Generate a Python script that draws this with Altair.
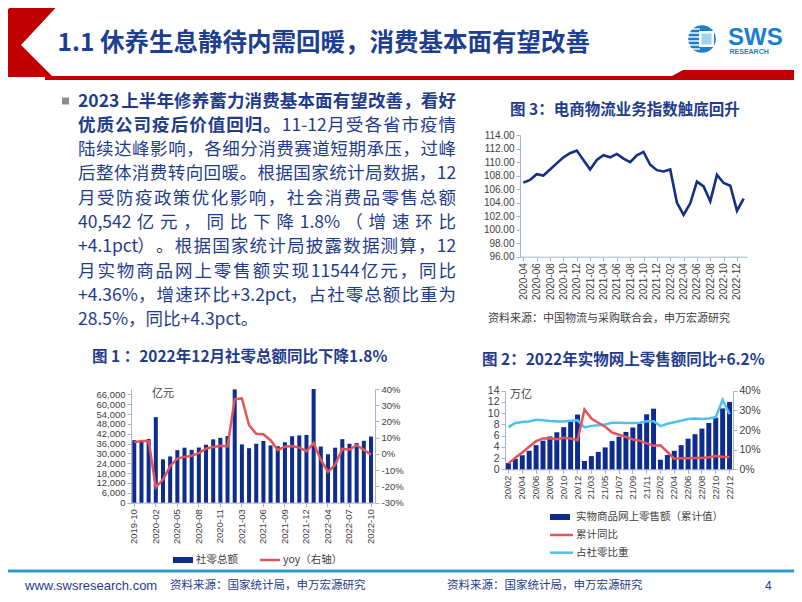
import altair as alt
import pandas as pd

OX, OY = 8, 8          # page margin: plot coords = page coords - 8
W, H = 786, 586

NAVY = "#1F3C8C"
TITLE_C = "#1E3F91"
BAR = "#0E2C8E"
RED_LINE = "#E2565A"
CYAN = "#4FC1EE"
RED = "#C00000"
AXC = "#A6B5CF"
LBL = "#404040"
LOGO = "#1B7FD0"
CJK = "Noto Sans CJK SC"
LAT = "Liberation Sans"

# ---------------- data: chart 1 (社零总额 / yoy) ----------------
c1_months = ["2019-10", "2019-11", "2019-12",
             "2020-02", "2020-03", "2020-04", "2020-05", "2020-06", "2020-07", "2020-08",
             "2020-09", "2020-10", "2020-11", "2020-12",
             "2021-02", "2021-03", "2021-04", "2021-05", "2021-06", "2021-07", "2021-08",
             "2021-09", "2021-10", "2021-11", "2021-12",
             "2022-02", "2022-03", "2022-04", "2022-05", "2022-06", "2022-07", "2022-08",
             "2022-09", "2022-10"]
c1_sales = [38100, 38100, 38800,
            52100, 26400, 28200, 32000, 33500, 32200, 33600, 35300, 38600, 39500, 40600,
            69000, 35500, 33200, 35900, 37600, 34900, 34400, 36800, 40500, 41000, 41300,
            69250, 34200, 29500, 33500, 38700, 35900, 36300, 37700, 40300]
c1_yoy = [7.2, 8.0, 8.0,
          -20.5, -15.8, -7.5, -2.8, -1.8, -1.1, 0.5, 3.3, 4.3, 5.0, 4.6,
          33.8, 34.2, 17.7, 12.4, 12.1, 8.5, 2.5, 4.4, 4.9, 3.9, 1.7,
          6.7, -3.5, -11.1, -6.7, 3.1, 2.7, 5.4, 2.5, -0.5]
c1_xticks = ["2019-10", "2020-02", "2020-05", "2020-08", "2020-11", "2021-03",
             "2021-06", "2021-09", "2021-12", "2022-04", "2022-07", "2022-10"]
c1_yticks = [0, 6000, 12000, 18000, 24000, 30000, 36000, 42000, 48000, 54000, 60000, 66000]
c1_rticks = [-30, -20, -10, 0, 10, 20, 30, 40]

# ---------------- data: chart 2 (实物网上零售额) ----------------
c2_months = ["20/02", "20/03", "20/04", "20/05", "20/06", "20/07", "20/08", "20/09", "20/10", "20/11", "20/12",
             "21/02", "21/03", "21/04", "21/05", "21/06", "21/07", "21/08", "21/09", "21/10", "21/11", "21/12",
             "22/02", "22/03", "22/04", "22/05", "22/06", "22/07", "22/08", "22/09", "22/10", "22/11", "22/12"]
c2_online = [1.1, 1.85, 2.5, 3.3, 4.3, 5.1, 5.85, 6.6, 7.5, 8.5, 9.75,
             1.48, 2.35, 3.1, 3.9, 5.05, 5.8, 6.65, 7.45, 8.2, 9.8, 10.8,
             1.7, 2.55, 3.3, 4.3, 5.45, 6.25, 7.25, 8.25, 9.2, 10.85, 12.0]
c2_cum_yoy = [3.0, 5.9, 8.6, 11.5, 14.3, 15.7, 15.8, 15.3, 16.0, 15.7, 14.8,
              30.5, 25.8, 23.7, 21.7, 18.7, 17.6, 16.5, 15.2, 14.6, 13.2, 12.0,
              12.2, 8.8, 5.4, 5.6, 5.6, 5.7, 5.8, 6.1, 6.8, 6.4, 6.2]
c2_share = [21.5, 23.6, 24.1, 24.3, 25.2, 25.0, 24.6, 24.3, 24.3, 24.7, 24.9,
            21.3, 22.1, 22.4, 22.8, 23.7, 23.7, 23.6, 23.6, 23.7, 24.5, 24.5,
            22.0, 23.2, 23.9, 24.7, 25.6, 25.9, 25.6, 25.9, 26.5, 35.3, 28.1]
c2_xticks = ["20/02", "20/04", "20/06", "20/08", "20/10", "20/12", "21/03", "21/05", "21/07",
             "21/09", "21/11", "22/02", "22/04", "22/06", "22/08", "22/10", "22/12"]
c2_yticks = [0, 2, 4, 6, 8, 10, 12, 14]
c2_rticks = [0, 10, 20, 30, 40]

# ---------------- data: chart 3 (电商物流业务指数) ----------------
c3_months = ["2020-04", "2020-05", "2020-06", "2020-07", "2020-08", "2020-09", "2020-10", "2020-11", "2020-12",
             "2021-01", "2021-02", "2021-03", "2021-04", "2021-05", "2021-06", "2021-07", "2021-08",
             "2021-09", "2021-10", "2021-11", "2021-12",
             "2022-01", "2022-02", "2022-03", "2022-04", "2022-05", "2022-06", "2022-07", "2022-08",
             "2022-09", "2022-10", "2022-11", "2022-12", "2023-01"]
c3_index = [106.95, 107.35, 108.2, 108.0, 108.9, 109.8, 110.7, 111.3, 111.7,
            110.3, 108.9, 110.3, 111.0, 110.7, 111.2, 110.5, 110.0, 111.0, 111.5, 109.6, 108.8,
            108.6, 108.9, 104.0, 102.2, 103.9, 107.1, 106.4, 104.2, 108.1, 106.9, 106.5, 102.8,
            104.6]
c3_xticks = ["2020-04", "2020-06", "2020-08", "2020-10", "2020-12", "2021-02", "2021-04", "2021-06",
             "2021-08", "2021-10", "2021-12", "2022-02", "2022-04", "2022-06", "2022-08", "2022-10", "2022-12"]
c3_yticks = [96, 98, 100, 102, 104, 106, 108, 110, 112, 114]

# ---------------- body text (justified lines) ----------------
body_lines = [
    [("2023上半年修养蓄力消费基本面有望改善，看好", True)],
    [("优质公司疫后价值回归。", True), ("11-12月受各省市疫情", False)],
    [("陆续达峰影响，各细分消费赛道短期承压，过峰", False)],
    [("后整体消费转向回暖。根据国家统计局数据，12", False)],
    [("月受防疫政策优化影响，社会消费品零售总额", False)],
    [("40,542亿元，同比下降1.8%（增速环比", False)],
    [("+4.1pct）。根据国家统计局披露数据测算，12", False)],
    [("月实物商品网上零售额实现11544亿元，同比", False)],
    [("+4.36%，增速环比+3.2pct，占社零总额比重为", False)],
    [("28.5%，同比+4.3pct。", False)],
]
body_y = [101.5, 125.8, 150.1, 174.4, 198.7, 223.0, 247.3, 271.6, 295.9, 320.2]
BODY_FS = 17.5
BODY_X0, BODY_X1 = 78, 456

LATIN_EM = {"0": .55, "1": .55, "2": .55, "3": .55, "4": .55, "5": .55, "6": .55, "7": .55,
            "8": .55, "9": .55, ",": .27, ".": .27, "%": .9, "+": .55, "-": .34, "p": .57,
            "c": .47, "t": .36, " ": .22}


def split_tokens(segs):
    toks = []
    for s, b in segs:
        run = ""
        for ch in s:
            if ord(ch) < 0x2E80:
                run += ch
            else:
                if run:
                    toks.append((run, b))
                    run = ""
                toks.append((ch, b))
        if run:
            toks.append((run, b))
    return toks


def tok_width(t, b, fs):
    if len(t) == 1 and ord(t) >= 0x2E80:
        return fs
    k = 1.12 if b else 1.0
    return sum(LATIN_EM.get(c, .55) for c in t) * fs * k


def justify(segs, y, fs, justify_line=True):
    rows = []
    if not justify_line:
        x = BODY_X0
        for s, b in segs:
            rows.append((x, y, s, b))
            x += sum(tok_width(t, bb, fs) for t, bb in split_tokens([(s, b)]))
        return rows
    toks = split_tokens(segs)
    widths = [tok_width(t, b, fs) for t, b in toks]
    gap = max(0.0, (BODY_X1 - BODY_X0 - sum(widths)) / (len(toks) - 1))
    x = BODY_X0
    for (t, b), w in zip(toks, widths):
        rows.append((x, y, t, b))
        x += w + gap
    return rows


# ---------------- helpers ----------------
def ax(**kw):
    d = dict(grid=False, domainColor=AXC, tickColor=AXC, labelColor=LBL, labelFont=LAT,
             labelFontSize=9.5, tickSize=4, labelPadding=2, labelOverlap=False, domainWidth=1)
    d.update(kw)
    return alt.Axis(**d)


def one():
    return pd.DataFrame({"k": [0]})


def text_layer(rows, font=CJK, weight="normal", align="left", baseline="middle"):
    df = pd.DataFrame(rows, columns=["x", "y", "t", "s", "c"])
    df["x"] = df["x"] - OX
    df["y"] = df["y"] - OY
    return alt.Chart(df).mark_text(font=font, fontWeight=weight, align=align, baseline=baseline).encode(
        x=alt.X("x:Q", scale=None, axis=None),
        y=alt.Y("y:Q", scale=None, axis=None),
        text="t:N",
        size=alt.Size("s:Q", scale=None, legend=None),
        color=alt.Color("c:N", scale=None, legend=None),
    )


def rect_layer(rows):
    df = pd.DataFrame(rows, columns=["x1", "y1", "x2", "y2", "c"])
    for k in ("x1", "x2"):
        df[k] = df[k] - OX
    for k in ("y1", "y2"):
        df[k] = df[k] - OY
    return alt.Chart(df).mark_rect(strokeWidth=0).encode(
        x=alt.X("x1:Q", scale=None, axis=None), x2="x2:Q",
        y=alt.Y("y1:Q", scale=None, axis=None), y2="y2:Q",
        color=alt.Color("c:N", scale=None, legend=None),
    )


def rule_layer(rows):
    df = pd.DataFrame(rows, columns=["x1", "x2", "y", "c", "w"])
    df["x1"] = df["x1"] - OX
    df["x2"] = df["x2"] - OX
    df["y"] = df["y"] - OY
    return alt.Chart(df).mark_rule().encode(
        x=alt.X("x1:Q", scale=None, axis=None), x2="x2:Q",
        y=alt.Y("y:Q", scale=None, axis=None),
        color=alt.Color("c:N", scale=None, legend=None),
        strokeWidth=alt.StrokeWidth("w:Q", scale=None, legend=None),
    )


def poly_layer(pts, color):
    path = "M" + " L".join(f"{x - OX:.1f},{y - OY:.1f}" for x, y in pts) + " Z"
    return alt.Chart(one()).mark_point(shape=path, size=4, filled=True, fill=color,
                                       strokeWidth=0, opacity=1).encode(
        x=alt.value(0), y=alt.value(0))


layers = []

# ---------------- header decoration ----------------
layers.append(poly_layer([(17, 0), (63, 0), (21, 45), (53, 77), (7, 77), (-26, 45)], RED))
layers.append(poly_layer([(45, 76), (672, 76), (683, 70), (810, 70), (810, 80), (45, 80)], RED))
# logo
layers.append(alt.Chart(one()).mark_point(shape="circle", size=760, filled=True, fill=LOGO,
                                          strokeWidth=0, opacity=1).encode(
    x=alt.value(702 - OX), y=alt.value(39 - OY)))
layers.append(rule_layer([(687, 700, 29, "white", 1.4), (686, 700, 33, "white", 1.4),
                          (686, 700, 37, "white", 1.4), (686, 700, 41, "white", 1.4),
                          (686, 700, 45, "white", 1.4), (687, 700, 49, "white", 1.4)]))
layers.append(rect_layer([(699, 31, 714, 47, "white"), (701.5, 33.5, 711.5, 44.5, "#9ED3F3")]))

# footer line + bullet
layers.append(rect_layer([(0, 569.5, 810, 572.5, "#2E9BCB"),
                          (62, 97.5, 69, 104.5, "#8C8C8C")]))

# ---------------- chart 1 ----------------
df1 = pd.DataFrame({"m": c1_months, "v": c1_sales, "yoy": c1_yoy})
X1 = [130.7 - OX, 374.6 - OX]
Y1 = [502.7 - OY, 389.0 - OY]
bars1 = alt.Chart(df1).mark_bar(color=BAR).encode(
    x=alt.X("m:N", sort=None, title=None,
            scale=alt.Scale(type="band", range=X1, paddingInner=0.44, paddingOuter=0.22),
            axis=ax(orient="bottom", offset=Y1[0] - H, values=c1_xticks, labelAngle=270)),
    y=alt.Y("v:Q", title=None,
            scale=alt.Scale(domain=[0, 69250], range=Y1, nice=False, zero=True),
            axis=ax(orient="left", offset=-(131 - OX), values=c1_yticks, format=",d", labelFlush=False)),
)
line1 = alt.Chart(df1).mark_line(color=RED_LINE, strokeWidth=2.5).encode(
    x=alt.X("m:N", sort=None, title=None,
            scale=alt.Scale(type="point", range=X1, padding=0.5), axis=None),
    y=alt.Y("yoy:Q", title=None,
            scale=alt.Scale(domain=[-30, 40], range=Y1, nice=False, zero=False),
            axis=ax(orient="right", offset=(375 - OX) - W, values=c1_rticks,
                    labelExpr="datum.value + '%'", labelFlush=False)),
)
layers += [bars1, line1]

# ---------------- chart 2 ----------------
df2 = pd.DataFrame({"m": c2_months, "v": c2_online, "g": c2_cum_yoy, "s": c2_share})
X2 = [505 - OX, 733 - OX]
Y2 = [469.3 - OY, 390.7 - OY]
bars2 = alt.Chart(df2).mark_bar(color=BAR).encode(
    x=alt.X("m:N", sort=None, title=None,
            scale=alt.Scale(type="band", range=X2, paddingInner=0.28, paddingOuter=0.14),
            axis=ax(orient="bottom", offset=Y2[0] - H, values=c2_xticks, labelAngle=270)),
    y=alt.Y("v:Q", title=None,
            scale=alt.Scale(domain=[0, 14], range=Y2, nice=False, zero=True),
            axis=ax(orient="left", offset=-(505 - OX), values=c2_yticks, format="d",
                    labelFontSize=10.5, labelFlush=False)),
)
share2 = alt.Chart(df2).mark_line(color=CYAN, strokeWidth=2.5).encode(
    x=alt.X("m:N", sort=None, title=None,
            scale=alt.Scale(type="point", range=X2, padding=0.5), axis=None),
    y=alt.Y("s:Q", title=None,
            scale=alt.Scale(domain=[0, 40], range=Y2, nice=False, zero=False), axis=None),
)
yoy2 = alt.Chart(df2).mark_line(color=RED_LINE, strokeWidth=2.5).encode(
    x=alt.X("m:N", sort=None, title=None,
            scale=alt.Scale(type="point", range=X2, padding=0.5), axis=None),
    y=alt.Y("g:Q", title=None,
            scale=alt.Scale(domain=[0, 40], range=Y2, nice=False, zero=False),
            axis=ax(orient="right", offset=(733 - OX) - W, values=c2_rticks,
                    labelExpr="datum.value + '%'", labelFontSize=10.5, labelFlush=False)),
)
layers += [bars2, share2, yoy2]

# ---------------- chart 3 ----------------
df3 = pd.DataFrame({"m": c3_months, "v": c3_index})
X3 = [520 - OX, 747 - OX]
Y3 = [256.7 - OY, 135.0 - OY]
line3 = alt.Chart(df3).mark_line(color="#132F86", strokeWidth=2.6).encode(
    x=alt.X("m:N", sort=None, title=None,
            scale=alt.Scale(type="point", range=X3, padding=0.5),
            axis=ax(orient="bottom", offset=Y3[0] - H, values=c3_xticks, labelAngle=270,
                    labelFontSize=10)),
    y=alt.Y("v:Q", title=None,
            scale=alt.Scale(domain=[96, 114], range=Y3, nice=False, zero=False),
            axis=ax(orient="left", offset=-(520 - OX), values=c3_yticks, format=".2f",
                    labelFontSize=10, labelFlush=False)),
)
layers.append(line3)

# ---------------- legends (manual) ----------------
layers.append(rect_layer([(173, 557, 193, 563, BAR), (550, 514, 570, 520, BAR)]))
layers.append(rule_layer([(260, 280, 560, RED_LINE, 2.5),
                          (550, 573, 535, RED_LINE, 2.5),
                          (550, 573, 552.7, CYAN, 2.5)]))

# ---------------- texts ----------------
layers.append(text_layer([
    (57.5, 43.5, "1.1 休养生息静待内需回暖，消费基本面有望改善", 24.5, TITLE_C),
    (92, 357, "图 1 ：2022年12月社零总额同比下降1.8%", 15.5, NAVY),
    (482, 360, "图 2：2022年实物网上零售额同比+6.2%", 15.5, NAVY),
    (510, 110, "图 3：电商物流业务指数触底回升", 15.5, NAVY),
], weight="bold"))

body_rows = []
for i, (segs, y) in enumerate(zip(body_lines, body_y)):
    body_rows += justify(segs, y, BODY_FS, justify_line=(i < len(body_lines) - 1))
bold_rows = [(x, y, t, BODY_FS, NAVY) for x, y, t, b in body_rows if b]
reg_rows = [(x, y, t, BODY_FS, NAVY) for x, y, t, b in body_rows if not b]
layers.append(text_layer(bold_rows, weight="bold"))
layers.append(text_layer(reg_rows))

layers.append(text_layer([
    (152, 393.5, "亿元", 11, LBL),
    (510, 394.5, "万亿", 11, LBL),
    (196, 560, "社零总额", 10.5, LBL),
    (283, 560, "yoy（右轴）", 10.5, LBL),
    (576, 517, "实物商品网上零售额（累计值）", 10.5, LBL),
    (576, 535, "累计同比", 10.5, LBL),
    (576, 552.7, "占社零比重", 10.5, LBL),
    (488, 319, "资料来源：中国物流与采购联合会，申万宏源研究", 11, LBL),
    (170, 586, "资料来源：国家统计局，申万宏源研究", 11.5, NAVY),
    (447, 586, "资料来源：国家统计局，申万宏源研究", 11.5, NAVY),
]))
layers.append(text_layer([
    (25, 586, "www.swsresearch.com", 13, NAVY),
    (765, 586, "4", 12, NAVY),
], font=LAT))
layers.append(text_layer([
    (728, 37.5, "SWS", 24, LOGO),
    (729.5, 52, "RESEARCH", 7, LOGO),
], font=LAT, weight="bold"))

chart = alt.layer(*layers).resolve_scale(
    x="independent", y="independent"
).resolve_axis(
    x="independent", y="independent"
).properties(
    width=W, height=H, padding=0,
    autosize=alt.AutoSizeParams(type="none"),
    background="white",
).configure_view(strokeWidth=0)

chart.save("out.html", embed_options={"renderer": "svg", "actions": False})
